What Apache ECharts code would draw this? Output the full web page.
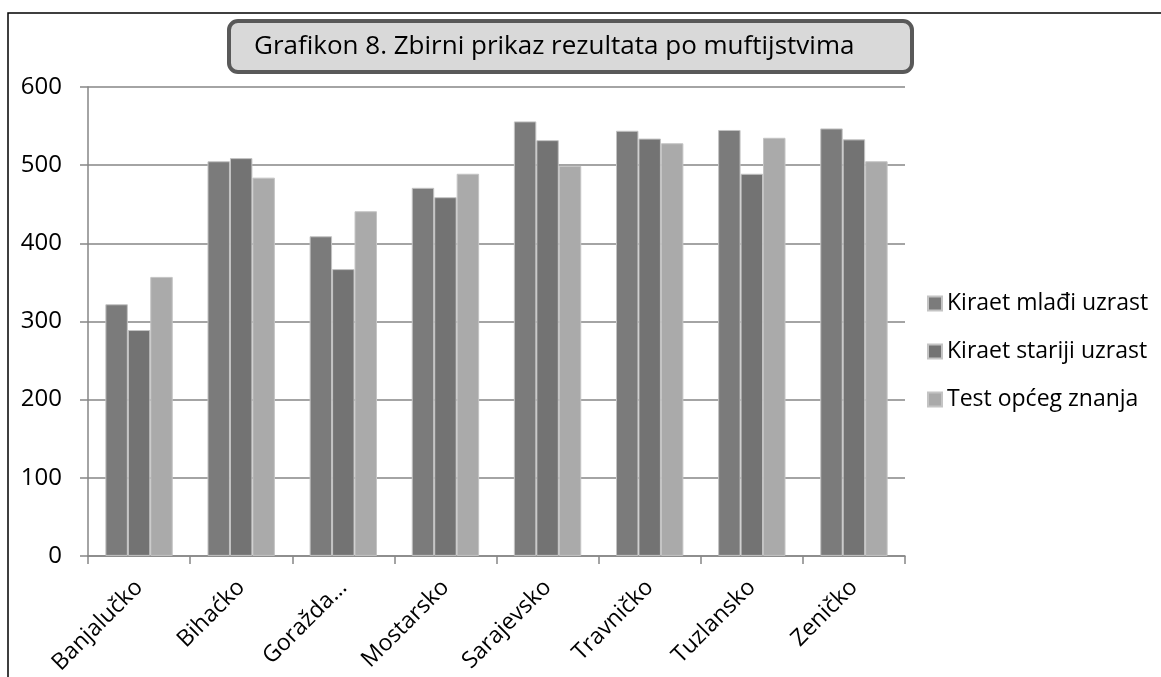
<!DOCTYPE html>
<html>
<head>
  <meta charset="utf-8">
  <title>Grafikon 8</title>
  <style>
    body {
      margin: 0;
      background: #fff;
    }

    #chart {
      width: 1161px;
      height: 677px;
    }
  </style>
</head>
<body>
  <div id="chart"></div>
</body>
<script src="https://cdn.jsdelivr.net/npm/echarts@6/dist/echarts.min.js"></script>
<script>
  var categories = ['Banjalučko', 'Bihaćko', 'Goražda…', 'Mostarsko', 'Sarajevsko', 'Travničko', 'Tuzlansko', 'Zeničko'];
  var seriesNames = ['Kiraet mlađi uzrast', 'Kiraet stariji uzrast', 'Test općeg znanja'];
  var mladji = [322, 505, 409, 471, 556, 544, 545, 547];
  var stariji = [289, 509, 367, 459, 532, 534, 489, 533];
  var test = [357, 484, 441, 489, 499, 528, 535, 505];
  var colors = ['#7b7b7b', '#737373', '#aaaaaa'];

  var font = '"Open Sans", sans-serif';
  var chart = echarts.init(document.getElementById('chart'));

  function bar(name, data, i) {
    return {
      name: name,
      type: 'bar',
      data: data,
      barGap: '0%',
      barCategoryGap: '34%',
      itemStyle: {
        color: colors[i],
        borderColor: '#c4c4c4',
        borderWidth: 1
      }
    };
  }

  var option = {
    animation: false,
    textStyle: { fontFamily: font },
    // rahmen + naslov u sivom okviru
    graphic: [
      {
        type: 'rect',
        shape: { x: 8, y: 13, width: 1200, height: 700 },
        style: { fill: null, stroke: '#000', lineWidth: 1.5 },
        silent: true
      },
      {
        type: 'rect',
        shape: { x: 229, y: 21, width: 683, height: 51, r: 9 },
        style: { fill: '#d9d9d9', stroke: '#595959', lineWidth: 4 },
        z: 10
      },
      {
        type: 'text',
        x: 254,
        y: 47,
        z: 11,
        style: {
          text: 'Grafikon 8. Zbirni prikaz rezultata po muftijstvima',
          fontFamily: font,
          fontSize: 26,
          verticalAlign: 'middle',
          fill: '#000'
        }
      }
    ],
    legend: {
      orient: 'vertical',
      left: 922,
      top: 287,
      itemWidth: 14,
      itemHeight: 14,
      itemGap: 25,
      icon: 'rect',
      textStyle: { fontSize: 23, color: '#000', fontFamily: font },
      data: seriesNames
    },
    grid: {
      left: 88,
      right: 256,
      top: 87,
      bottom: 120
    },
    xAxis: {
      type: 'category',
      data: categories,
      axisLine: { lineStyle: { color: '#868686', width: 1.5 } },
      axisTick: { show: true, length: 8, lineStyle: { color: '#868686', width: 1.5 } },
      axisLabel: {
        rotate: 45,
        interval: 0,
        fontSize: 23,
        color: '#000',
        margin: 28
      }
    },
    yAxis: {
      type: 'value',
      min: 0,
      max: 600,
      interval: 100,
      axisLine: { show: true, lineStyle: { color: '#868686', width: 1.5 } },
      axisTick: { show: true, length: 8, lineStyle: { color: '#868686', width: 1.5 } },
      splitLine: { lineStyle: { color: '#868686', width: 1.5 } },
      axisLabel: { fontSize: 24, color: '#000', margin: 26 }
    },
    series: [
      bar(seriesNames[0], mladji, 0),
      bar(seriesNames[1], stariji, 1),
      bar(seriesNames[2], test, 2)
    ]
  };

  chart.setOption(option);
</script>
</html>
